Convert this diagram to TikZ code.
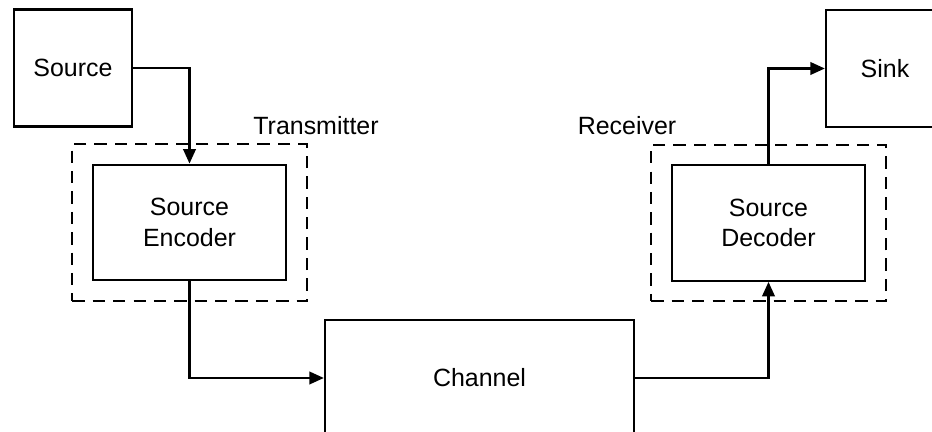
\documentclass[tikz,border=0pt]{standalone}
\usepackage{fontspec}
\setmainfont{Liberation Sans}
\usetikzlibrary{arrows.meta,fit}

\begin{document}
\begin{tikzpicture}[
  font=\fontsize{14.2}{17.5}\selectfont,
  blocco/.style={draw=black, line width=1.3pt, align=center, inner sep=0pt},
  piccolo/.style={blocco, minimum width=2.36cm, minimum height=2.34cm},
  medio/.style={blocco, minimum width=3.86cm, minimum height=2.31cm},
  grande/.style={blocco, minimum width=6.18cm, minimum height=2.32cm},
  gruppo/.style={draw=black, line width=1.2pt, dash pattern=on 7pt off 4.6pt,
                 inner sep=0.39cm},
  freccia/.style={draw=black, line width=1.3pt,
                  -{Triangle[length=2.9mm, width=2.5mm]}}
]

%--------------------------------------------------------------
% Area visibile (la figura e' ritagliata a destra e in basso)
%--------------------------------------------------------------
\useasboundingbox (0,0) rectangle (18.64,8.64);
\clip (0,0) rectangle (18.64,8.64);

%--------------------------------------------------------------
% Blocchi
%--------------------------------------------------------------
\node[piccolo] (sorgente) at (1.46,7.28) {Source};
\node[medio]   (codificatore) at (3.79,4.19) {Source\\Encoder};
\node[grande]  (canale) at (9.59,1.08) {Channel};
\node[medio]   (decodificatore) at (15.37,4.18) {Source\\Decoder};
\node[piccolo] (destinazione) at (17.70,7.27) {Sink};

%--------------------------------------------------------------
% Trasmettitore e ricevitore (riquadri tratteggiati)
%--------------------------------------------------------------
\node[gruppo, fit=(codificatore)] (trasmettitore) {};
\node[gruppo, fit=(decodificatore)] (ricevitore) {};
\node (etrasm) at (6.32,6.12) {Transmitter};
\node (ericev) at (12.54,6.12) {Receiver};

%--------------------------------------------------------------
% Collegamenti
%--------------------------------------------------------------
\draw[freccia] (sorgente.east) -| (codificatore.north);
\draw[freccia] (codificatore.south) |- (canale.west);
\draw[freccia] (canale.east) -| (decodificatore.south);
\draw[freccia] (decodificatore.north) |- (destinazione.west);

\end{tikzpicture}
\end{document}
